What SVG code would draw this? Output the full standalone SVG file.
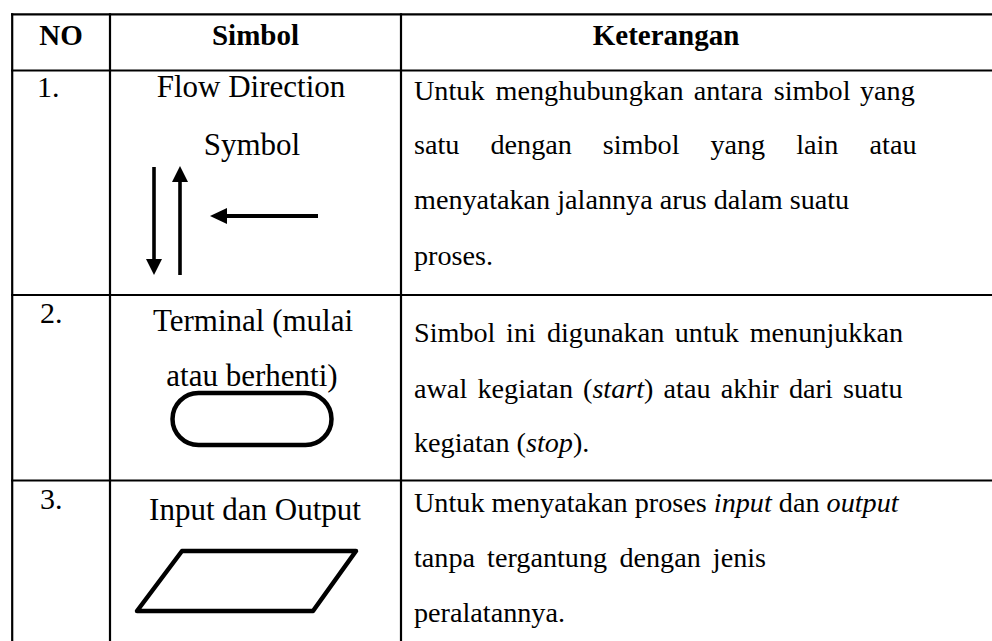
<svg xmlns="http://www.w3.org/2000/svg" width="992" height="641" viewBox="0 0 992 641">
<style>
.grid{stroke:#000;stroke-width:2.2;fill:none}
.hdr{font-family:"Liberation Serif","Times New Roman",serif;font-size:29px;font-weight:bold;fill:#000;text-anchor:middle}
.num{font-family:"Liberation Serif","Times New Roman",serif;font-size:30px;fill:#000}
.sym{font-family:"Liberation Serif","Times New Roman",serif;font-size:31px;fill:#000;text-anchor:middle}
.desc{font-family:"Liberation Serif","Times New Roman",serif;font-size:28.2px;fill:#000}
.ital{font-style:italic}
.shape{stroke:#000;stroke-width:4.5;fill:none;stroke-linejoin:round}
</style>
<rect width="992" height="641" fill="#fff"/>
<g id="table-grid">
<line class="grid" x1="11" y1="14.3" x2="992" y2="14.3"/>
<line class="grid" x1="11" y1="70.5" x2="992" y2="70.5"/>
<line class="grid" x1="11" y1="295" x2="992" y2="295"/>
<line class="grid" x1="11" y1="480.5" x2="992" y2="480.5"/>
<line class="grid" x1="12.2" y1="13.2" x2="12.2" y2="641"/>
<line class="grid" x1="110" y1="13.2" x2="110" y2="641"/>
<line class="grid" x1="401" y1="13.2" x2="401" y2="641"/>
</g>
<g id="header">
<text class="hdr" x="61" y="45">NO</text>
<text class="hdr" x="255.5" y="45">Simbol</text>
<text class="hdr" x="666" y="45">Keterangan</text>
</g>
<g id="row1">
<text class="num" x="37" y="97">1.</text>
<text class="sym" x="251" y="97">Flow Direction</text>
<text class="sym" x="252" y="155">Symbol</text>
<g id="flow-arrows">
<line x1="154" y1="167" x2="154" y2="262" stroke="#000" stroke-width="3.6"/>
<polygon points="146,259 162,259 154,275" fill="#000"/>
<line x1="180" y1="180" x2="180" y2="275" stroke="#000" stroke-width="3.6"/>
<polygon points="172,182 188,182 180,166" fill="#000"/>
<line x1="225" y1="216" x2="318" y2="216" stroke="#000" stroke-width="4"/>
<polygon points="227,208 227,224 210,216" fill="#000"/>
</g>
<text class="desc" y="100"><tspan x="414">Untuk</tspan><tspan x="495.6">menghubungkan</tspan><tspan x="693.8">antara</tspan><tspan x="773.8">simbol</tspan><tspan x="860">yang</tspan></text>
<text class="desc" y="154"><tspan x="414">satu</tspan><tspan x="490.5">dengan</tspan><tspan x="602.8">simbol</tspan><tspan x="710.4">yang</tspan><tspan x="796.2">lain</tspan><tspan x="869.6">atau</tspan></text>
<text class="desc" x="414" y="209">menyatakan jalannya arus dalam suatu</text>
<text class="desc" x="414" y="265">proses.</text>
</g>
<g id="row2">
<text class="num" x="40" y="323">2.</text>
<text class="sym" x="253" y="331">Terminal (mulai</text>
<text class="sym" x="252" y="386">atau berhenti)</text>
<rect id="terminal-shape" class="shape" x="172.5" y="393" width="159" height="52" rx="26" ry="26"/>
<text class="desc" y="342"><tspan x="414">Simbol</tspan><tspan x="506.1">ini</tspan><tspan x="546.9">digunakan</tspan><tspan x="674.7">untuk</tspan><tspan x="749.7">menunjukkan</tspan></text>
<text class="desc" y="398"><tspan x="414">awal</tspan><tspan x="477.5">kegiatan</tspan><tspan x="583">(<tspan class="ital">start</tspan>)</tspan><tspan x="663.6">atau</tspan><tspan x="720.8">akhir</tspan><tspan x="788.9">dari</tspan><tspan x="843">suatu</tspan></text>
<text class="desc" x="414" y="452">kegiatan (<tspan class="ital">stop</tspan>).</text>
</g>
<g id="row3">
<text class="num" x="40" y="509">3.</text>
<text class="sym" x="255" y="520">Input dan Output</text>
<polygon id="io-shape" class="shape" points="182,551 356,551 313,611 137,611"/>
<text class="desc" x="414" y="512">Untuk menyatakan proses <tspan class="ital">input</tspan> dan <tspan class="ital">output</tspan></text>
<text class="desc" y="567"><tspan x="414">tanpa</tspan><tspan x="487.1">tergantung</tspan><tspan x="619.4">dengan</tspan><tspan x="712.8">jenis</tspan></text>
<text class="desc" x="414" y="622">peralatannya.</text>
</g>
</svg>
